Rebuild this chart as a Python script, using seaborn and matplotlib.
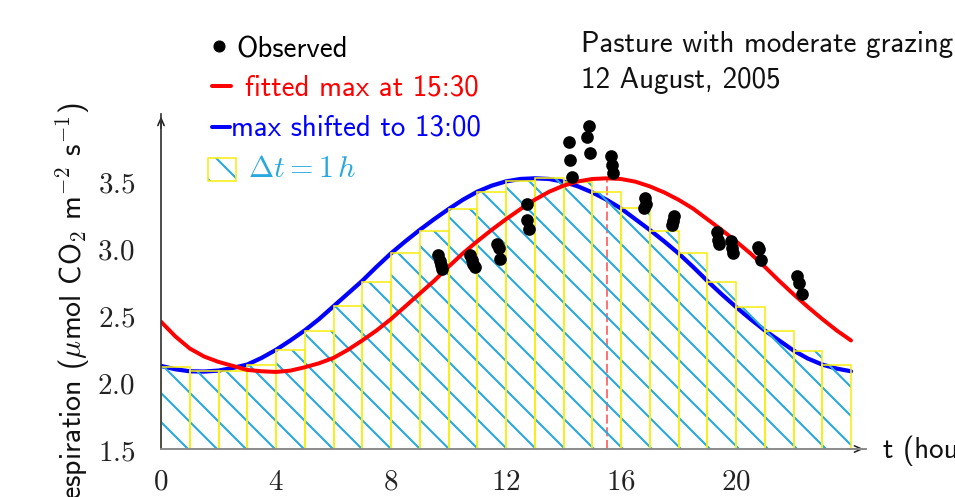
import numpy as np
import pandas as pd
import matplotlib
matplotlib.use("Agg")
import matplotlib.pyplot as plt
import seaborn as sns
from matplotlib.patches import Rectangle
from matplotlib.lines import Line2D

# ---------------- data ----------------
t_grid = [0, 0.5, 1, 1.5, 2, 2.5, 3, 3.5, 4, 4.5, 5, 5.5, 6, 6.5, 7, 7.5, 8, 8.5,
          9, 9.5, 10, 10.5, 11, 11.5, 12, 12.5, 13, 13.5, 14, 14.5, 15, 15.5, 16,
          16.5, 17, 17.5, 18, 18.5, 19, 19.5, 20, 20.5, 21, 21.5, 22, 22.5, 23,
          23.5, 24]
fitted_red = [2.45, 2.34, 2.25, 2.19, 2.15, 2.12, 2.09, 2.08, 2.075, 2.085, 2.11,
              2.14, 2.18, 2.24, 2.31, 2.385, 2.47, 2.565, 2.66, 2.755, 2.86, 2.96,
              3.05, 3.135, 3.215, 3.29, 3.36, 3.42, 3.465, 3.497, 3.515, 3.52, 3.515,
              3.495, 3.46, 3.415, 3.36, 3.295, 3.215, 3.135, 3.05, 2.96, 2.86, 2.755,
              2.655, 2.56, 2.47, 2.385, 2.31]
shifted_blue = [2.12, 2.095, 2.08, 2.078, 2.085, 2.105, 2.13, 2.18, 2.24, 2.31, 2.385,
                2.47, 2.565, 2.66, 2.755, 2.86, 2.96, 3.05, 3.135, 3.215, 3.29, 3.36,
                3.42, 3.465, 3.497, 3.515, 3.52, 3.515, 3.495, 3.46, 3.415, 3.36, 3.295,
                3.215, 3.135, 3.05, 2.96, 2.86, 2.755, 2.655, 2.56, 2.47, 2.385, 2.31,
                2.235, 2.175, 2.13, 2.10, 2.08]

bar_hour = list(range(24))
bar_height = [2.11, 2.08, 2.08, 2.13, 2.24, 2.38, 2.57, 2.75, 2.96, 3.13, 3.29,
              3.42, 3.50, 3.52, 3.49, 3.42, 3.30, 3.13, 2.96, 2.75, 2.56, 2.38,
              2.23, 2.13]

obs_t = [9.63, 9.70, 9.73, 9.77, 10.76, 10.83, 10.85, 10.91, 11.70, 11.77, 11.79,
         12.72, 12.74, 12.79, 14.20, 14.23, 14.29, 14.89, 14.83, 14.92, 15.64,
         15.68, 15.71, 16.83, 16.86, 16.80, 17.84, 17.80, 17.76, 19.35, 19.39,
         19.42, 19.82, 19.85, 19.89, 20.78, 20.81, 20.87, 22.13, 22.20, 22.29]
obs_v = [2.95, 2.90, 2.87, 2.84, 2.95, 2.91, 2.88, 2.86, 3.03, 3.00, 2.92,
         3.33, 3.21, 3.14, 3.79, 3.66, 3.53, 3.91, 3.83, 3.71, 3.69, 3.62, 3.56,
         3.37, 3.33, 3.30, 3.24, 3.20, 3.17, 3.12, 3.06, 3.03, 3.05, 3.00, 2.96,
         3.01, 2.99, 2.91, 2.79, 2.74, 2.66]

peak_t = 15.5
peak_v = 3.52

xticks = [0, 4, 8, 12, 16, 20]
xtick_labels = ["$0$", "$4$", "$8$", "$12$", "$16$", "$20$"]
yticks = [1.5, 2.0, 2.5, 3.0, 3.5]
ytick_labels = ["$1.5$", "$2.0$", "$2.5$", "$3.0$", "$3.5$"]

label_obs = "Observed"
label_red = "fitted max at 15:30"
label_blue = "max shifted to 13:00"
label_bar = r"$\Delta t = 1\,h$"
title_1 = "Pasture with moderate grazing"
title_2 = "12 August, 2005"
xlabel = "t (hours)"
ylabel = r"Soil respiration ($\mu$mol CO$_2$ m$^{-2}$ s$^{-1}$)"

# ---------------- styling ----------------
RED = "#ff0000"
BLUE = "#0000ff"
HATCH = "#27a8df"
YELLOW = "#f7ee10"
FS = 24
SANS = ["cmss10", "DejaVu Sans"]

sns.set_theme(style="white")
plt.rcParams["font.family"] = ["DejaVu Sans"]
plt.rcParams["mathtext.fontset"] = "cm"
plt.rcParams["hatch.linewidth"] = 1.7
plt.rcParams["axes.unicode_minus"] = False

W_PX, H_PX, DPI = 955, 497, 87
fig = plt.figure(figsize=(W_PX / DPI, H_PX / DPI), dpi=DPI)
fig.patch.set_facecolor("white")


def fx(px):
    return px / W_PX


def fy(py):
    return 1 - py / H_PX


x0_px, x1_px = 161, 866
y0_px, y1_px = 449, 114
ax = fig.add_axes([fx(x0_px), fy(y0_px), fx(x1_px) - fx(x0_px), fy(y1_px) - fy(y0_px)])
ax.set_facecolor("none")

# blue shifted curve (beneath hatch)
sns.lineplot(x=t_grid, y=shifted_blue, color=BLUE, lw=3.5, ax=ax, errorbar=None,
             zorder=1)

# dashed marker of fitted maximum
ax.vlines(peak_t, 1.5, peak_v, colors=RED, linestyles=(0, (5, 2)), lw=1.5,
          alpha=0.6, zorder=1.5)

# hatched bars
bar_df = pd.DataFrame({"t": np.array(bar_hour) + 0.5, "v": bar_height})
n0 = len(ax.patches)
sns.barplot(data=bar_df, x="t", y="v", native_scale=True, width=1.0,
            color=HATCH, errorbar=None, ax=ax)
for p in ax.patches[n0:]:
    p.set_facecolor("none")
    p.set_edgecolor(HATCH)
    p.set_linewidth(0)
    p.set_hatch("\\")
    p.set_zorder(2)
n1 = len(ax.patches)
sns.barplot(data=bar_df, x="t", y="v", native_scale=True, width=1.0,
            color=YELLOW, errorbar=None, ax=ax)
for p in ax.patches[n1:]:
    p.set_facecolor("none")
    p.set_edgecolor(YELLOW)
    p.set_linewidth(1.3)
    p.set_zorder(2.5)

# fitted red curve
sns.lineplot(x=t_grid, y=fitted_red, color=RED, lw=3.3, ax=ax, errorbar=None,
             zorder=3)

# observations
sns.scatterplot(x=obs_t, y=obs_v, color="black", s=110, linewidth=0, ax=ax,
                zorder=4, clip_on=False)

ax.set_xlim(0, (x1_px - x0_px) / 28.75)
ax.set_ylim(1.5, 1.5 + (y0_px - y1_px) / 134.0)
ax.set_xlabel("")
ax.set_ylabel("")

# axes look
for s in ["top", "right"]:
    ax.spines[s].set_visible(False)
ax.spines["left"].set_color("#333333")
ax.spines["left"].set_linewidth(1.4)
ax.spines["bottom"].set_color("#8a8a8a")
ax.spines["bottom"].set_linewidth(1.6)
ax.spines["left"].set_zorder(5)
ax.spines["bottom"].set_zorder(5)

ax.set_xticks(xticks)
ax.set_xticklabels(xtick_labels, fontsize=FS)
ax.set_yticks(yticks)
ax.set_yticklabels(ytick_labels, fontsize=FS)
ax.tick_params(axis="x", direction="out", length=7.5, width=1.6, color="#8a8a8a",
               pad=8, labelcolor="#222222")
ax.tick_params(axis="y", direction="inout", length=16.5, width=1.0, color="#222222",
               pad=13, labelcolor="#222222")
ax.grid(False)

# axis arrows
ax.annotate("", xy=(0, 1.0), xytext=(0, 0.95), xycoords="axes fraction",
            arrowprops=dict(arrowstyle="->,head_length=0.5,head_width=0.22",
                            color="#222222", lw=1.3), annotation_clip=False)
ax.annotate("", xy=(1.0, 0), xytext=(0.97, 0), xycoords="axes fraction",
            arrowprops=dict(arrowstyle="->,head_length=0.5,head_width=0.22",
                            color="#222222", lw=1.3), annotation_clip=False)

# legend (hand placed like the reference)
fig.add_artist(Line2D([fx(219)], [fy(46)], marker="o", ms=9, color="black",
                      lw=0, transform=fig.transFigure))
fig.text(fx(236), fy(57), label_obs, fontsize=FS, family=SANS, color="black",
         va="baseline")
fig.add_artist(Line2D([fx(212), fx(231)], [fy(86), fy(86)], color=RED, lw=3.3,
                      transform=fig.transFigure))
fig.text(fx(245), fy(96), label_red, fontsize=FS, family=SANS, color=RED,
         va="baseline")
fig.add_artist(Line2D([fx(212), fx(230)], [fy(127), fy(127)], color=BLUE, lw=3.3,
                      transform=fig.transFigure))
fig.text(fx(231), fy(136), label_blue, fontsize=FS, family=SANS, color=BLUE,
         va="baseline")
r1 = Rectangle((fx(208), fy(181)), fx(236) - fx(208), fy(158) - fy(181),
               transform=fig.transFigure, facecolor="none", edgecolor=HATCH,
               lw=0, hatch="\\")
r2 = Rectangle((fx(208), fy(181)), fx(236) - fx(208), fy(158) - fy(181),
               transform=fig.transFigure, facecolor="none", edgecolor=YELLOW,
               lw=1.3)
fig.add_artist(r1)
fig.add_artist(r2)
fig.text(fx(248), fy(177), label_bar, fontsize=25, color=HATCH, va="baseline")

# title block
fig.text(fx(581), fy(52), title_1, fontsize=FS, family=SANS, color="#111111",
         va="baseline")
fig.text(fx(581), fy(88), title_2, fontsize=FS, family=SANS, color="#111111",
         va="baseline")

# axis labels (partly outside the canvas, as in the reference)
fig.text(fx(883), fy(458), xlabel, fontsize=FS, family=SANS, color="#111111",
         va="baseline")
fig.text(fx(73), fy(103), ylabel, fontsize=24.8, family=SANS, color="#111111",
         rotation=90, ha="center", va="top")

fig.savefig("out.png", dpi=DPI, facecolor="white")
